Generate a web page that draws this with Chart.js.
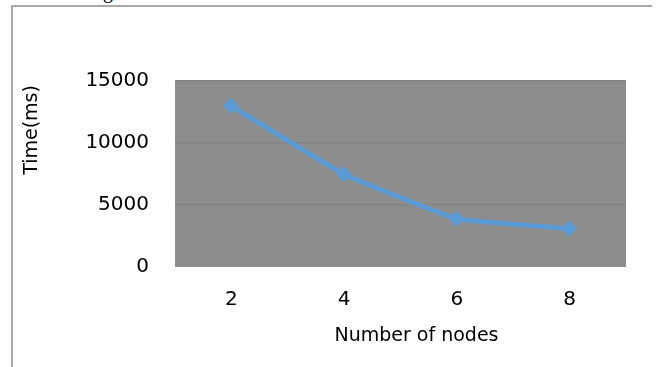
<!DOCTYPE html>
<html>
<head>
<meta charset="utf-8">
<script src="https://cdn.jsdelivr.net/npm/chart.js@4.4.1/dist/chart.umd.min.js"></script>
<style>
  html, body { margin: 0; padding: 0; background: #fff; }
  #wrap { position: relative; width: 661px; height: 367px; overflow: hidden; }
  #frame { position: absolute; left: 11px; top: 5px; width: 641px; height: 380px;
           border-top: 2px solid #a9a9a9; border-left: 2px solid #a9a9a9; box-sizing: border-box; }
  #cap { position: absolute; left: 103px; top: -20px; font: 20px "Liberation Serif", serif; color: #000;
         -webkit-font-smoothing: antialiased; }
  canvas { position: absolute; left: 0; top: 0; }
</style>
</head>
<body>
<div id="wrap">
  <div id="cap">g</div>
  <div id="frame"></div>
  <canvas id="c" width="661" height="367"></canvas>
</div>
<script>
// Processing time for each cluster size
const nodeCounts = ['2', '4', '6', '8'];
const timeMs = [13000, 7500, 3900, 3100];
const yTicks = [0, 5000, 10000, 15000];

const xTitle = 'Number of nodes';
const yTitle = 'Time(ms)';

const FONT = '"DejaVu Sans", sans-serif';

// Grey plot background and the two axis titles
const plotDecor = {
  id: 'plotDecor',
  beforeDraw(chart) {
    const { ctx, chartArea: a } = chart;
    ctx.save();
    ctx.fillStyle = '#8d8d8d';
    ctx.fillRect(a.left, a.top, a.right - a.left, a.bottom - a.top);
    ctx.restore();
  },
  afterDraw(chart) {
    const { ctx, chartArea: a } = chart;
    ctx.save();
    ctx.fillStyle = '#000';
    ctx.font = '19px ' + FONT;
    ctx.textAlign = 'center';
    ctx.textBaseline = 'middle';
    ctx.fillText(xTitle, (a.left + a.right) / 2 + 16, 336);
    ctx.translate(32, 130);
    ctx.rotate(-Math.PI / 2);
    ctx.fillText(yTitle, 0, 0);
    ctx.restore();
  }
};

new Chart(document.getElementById('c'), {
  type: 'line',
  data: {
    labels: nodeCounts,
    datasets: [{
      data: timeMs,
      borderColor: '#5b9bd5',
      backgroundColor: '#5b9bd5',
      borderWidth: 5,
      pointStyle: 'rectRot',
      pointRadius: 8,
      pointBorderWidth: 0,
      tension: 0.1,
      fill: false
    }]
  },
  options: {
    responsive: false,
    animation: false,
    layout: { padding: { left: 0, right: 35, top: 81, bottom: 0 } },
    plugins: { legend: { display: false }, tooltip: { enabled: false } },
    scales: {
      x: {
        type: 'category',
        offset: true,
        grid: { display: false, drawTicks: false },
        border: { display: false },
        ticks: { color: '#000', font: { family: FONT, size: 20 }, padding: 21, maxRotation: 0 },
        afterFit(s) { s.height = 100; }
      },
      y: {
        min: 0,
        max: 15000,
        afterBuildTicks(s) { s.ticks = yTicks.map(v => ({ value: v })); },
        grid: {
          drawTicks: false,
          color: ctx => (ctx.tick && ctx.tick.value === 0) ? 'rgba(0,0,0,0)' : '#858585',
          lineWidth: 1.5
        },
        border: { display: false },
        ticks: {
          color: '#000',
          font: { family: FONT, size: 20 },
          padding: 26,
          callback: v => String(v)
        },
        afterFit(s) { s.width = 175; }
      }
    }
  },
  plugins: [plotDecor]
});
</script>
</body>
</html>
